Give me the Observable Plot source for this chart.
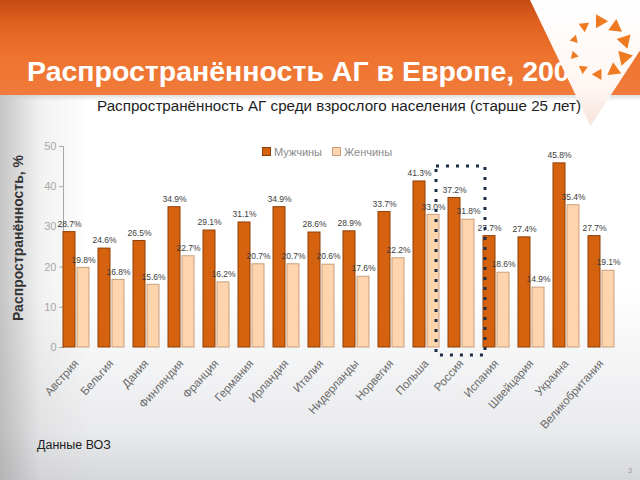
<!DOCTYPE html>
<html>
<head>
<meta charset="utf-8">
<script src="https://cdn.jsdelivr.net/npm/d3@7"></script>
<script src="https://cdn.jsdelivr.net/npm/@observablehq/plot@0.6"></script>
<style>
  html, body { margin: 0; padding: 0; }
  #slide {
    position: relative; width: 640px; height: 480px; overflow: hidden;
    font-family: "Liberation Sans", Arial, sans-serif;
    background:
      linear-gradient(to right, rgba(150,150,150,0.55) 0px, rgba(200,200,200,0.25) 40px, rgba(255,255,255,0) 90px),
      linear-gradient(to bottom, #ffffff 0%, #ffffff 60%, #e9eaec 90%, #d6d7da 100%);
  }
  #banner {
    position: absolute; left: 0; top: 0; width: 640px; height: 95px;
    background: linear-gradient(to bottom, #c54b14 0%, #e0621f 25%, #ee7430 60%, #f07b3a 100%);
  }
  #bannerEdge {
    position: absolute; left: 0; top: 95px; width: 640px; height: 6px;
    background: linear-gradient(to bottom, rgba(200,200,200,0.6), rgba(255,255,255,0));
  }
  #title {
    position: absolute; left: 27px; top: 55px; color: #fff; font-weight: bold;
    font-size: 28.5px; white-space: nowrap;
  }
  #vee {
    position: absolute; left: 530px; top: 0; width: 110px; height: 126px;
    background: linear-gradient(to bottom, #ffffff 0%, #fff6f2 70%, #f6e3dc 100%);
    clip-path: polygon(0 0, 100% 0, 100% 40%, 55% 100%);
  }
  #ring { position: absolute; left: 599px; top: 48px; width: 0; height: 0; }
  .tri {
    position: absolute; width: 0; height: 0;
    border-left: 7px solid transparent; border-right: 7px solid transparent;
    border-top: 12px solid #ee7a22;
  }
  #subtitle {
    position: absolute; left: 97px; top: 97px; font-size: 15.2px; color: #1e1e1e; white-space: nowrap;
  }
  #ylabel {
    position: absolute; left: 18px; top: 238px; font-size: 14px; font-weight: bold; color: #333;
    white-space: nowrap; transform: translate(-50%, -50%) rotate(-90deg);
  }
  #legend {
    position: absolute; left: 262px; top: 146px; font-size: 11px; color: #8a8a8a; white-space: nowrap;
  }
  #legend span.sw { display: inline-block; width: 7px; height: 7px; margin-right: 3px; vertical-align: 0px; }
  #legend span.item { margin-right: 10px; }
  #chart { position: absolute; left: 0; top: 130px; }
  #source { position: absolute; left: 37px; top: 438px; font-size: 12.5px; color: #1e1e1e; }
  #pageno { position: absolute; left: 628px; top: 467px; font-size: 7px; color: #999; }
</style>
</head>
<body>
<div id="slide">
  <div id="banner"></div>
  <div id="bannerEdge"></div>
  <div id="title">Распространённость АГ в Европе, 2007</div>
  <div id="vee"></div>
  <div id="ring"></div>
  <div id="subtitle">Распространённость АГ среди взрослого населения (старше 25 лет)</div>
  <div id="ylabel">Распространённость, %</div>
  <div id="chart"></div>
  <div id="legend"></div>
  <div id="source">Данные ВОЗ</div>
  <div id="pageno">3</div>
</div>
<script>
// ---- data ----
const countries = ["Австрия","Бельгия","Дания","Финляндия","Франция","Германия","Ирландия","Италия","Нидерланды","Норвегия","Польша","Россия","Испания","Швейцария","Украина","Великобритания"];
const men   = [28.7, 24.6, 26.5, 34.9, 29.1, 31.1, 34.9, 28.6, 28.9, 33.7, 41.3, 37.2, 27.7, 27.4, 45.8, 27.7];
const women = [19.8, 16.8, 15.6, 22.7, 16.2, 20.7, 20.7, 20.6, 17.6, 22.2, 33.0, 31.8, 18.6, 14.9, 35.4, 19.1];
const seriesNames = ["Мужчины", "Женчины"];
const seriesColors = ["#d5620f", "#fdd4ab"];
const seriesStrokes = ["#8f3e07", "#c9a07f"];
const yTicks = [0, 10, 20, 30, 40, 50];
const highlightCountry = ["Россия"];
const highlightRange = [-2, 45];

// ---- long table ----
const table = [];
countries.forEach((c, i) => {
  table.push({country: c, sex: seriesNames[0], value: men[i]});
  table.push({country: c, sex: seriesNames[1], value: women[i]});
});
const fmt = v => v.toFixed(1) + "%";

// ---- decoration: logo ring ----
const ring = document.getElementById("ring");
const triSizes = [1.0, 1.0, 1.05, 1.1, 1.0, 0.8, 0.65, 0.6, 0.6, 0.75];
triSizes.forEach((s, k) => {
  const a = -90 + k * 36;
  const t = document.createElement("div");
  t.className = "tri";
  const r = 25;
  const x = r * Math.cos(a * Math.PI / 180), y = r * Math.sin(a * Math.PI / 180);
  t.style.transform = `translate(${x - 7}px, ${y - 6}px) rotate(${a + 90 + 30}deg) scale(${s})`;
  ring.appendChild(t);
});

// ---- legend ----
const legend = document.getElementById("legend");
seriesNames.forEach((n, i) => {
  const it = document.createElement("span");
  it.className = "item";
  it.innerHTML = `<span class="sw" style="background:${seriesColors[i]};border:1px solid ${seriesStrokes[i]}"></span>${n}`;
  legend.appendChild(it);
});

// ---- chart ----
const chart = Plot.plot({
  width: 640,
  height: 310,
  marginTop: 16,
  marginBottom: 93,
  marginLeft: 58,
  marginRight: 20,
  style: {background: "transparent", color: "#a8a8a8", fontSize: "11px", fontFamily: "Liberation Sans, Arial, sans-serif"},
  fx: {domain: countries, paddingInner: 0.245, paddingOuter: 0.14, label: null, axis: null},
  x: {domain: seriesNames, paddingInner: 0.15, paddingOuter: 0, axis: null},
  y: {domain: [0, 50], ticks: yTicks, tickSize: 4, tickPadding: 3, line: true, label: null},
  color: {domain: seriesNames, range: seriesColors},
  marks: [
    Plot.axisFx({anchor: "bottom", tickRotate: -48, tickSize: 0, tickPadding: 14, fontSize: 11.5, fill: "#6a6a6a", textAnchor: "end", label: null}),
    Plot.barY(table.filter(d => d.sex === seriesNames[0]), {fx: "country", x: "sex", y: "value", fill: seriesColors[0], stroke: seriesStrokes[0], strokeWidth: 1}),
    Plot.barY(table.filter(d => d.sex === seriesNames[1]), {fx: "country", x: "sex", y: "value", fill: seriesColors[1], stroke: seriesStrokes[1], strokeWidth: 1}),
    Plot.text(table, {fx: "country", x: "sex", y: "value", text: d => fmt(d.value), dy: -8, fontSize: 8.5, fill: "#3c3c3c"}),
    Plot.rect(highlightCountry.map(c => ({country: c})), {
      fx: "country", y1: () => highlightRange[0], y2: () => highlightRange[1],
      insetLeft: -12, insetRight: -11, fill: "none", stroke: "#1c2c48", strokeWidth: 3,
      strokeDasharray: "3,7", clip: false
    })
  ]
});
document.getElementById("chart").appendChild(chart);
</script>
</body>
</html>
